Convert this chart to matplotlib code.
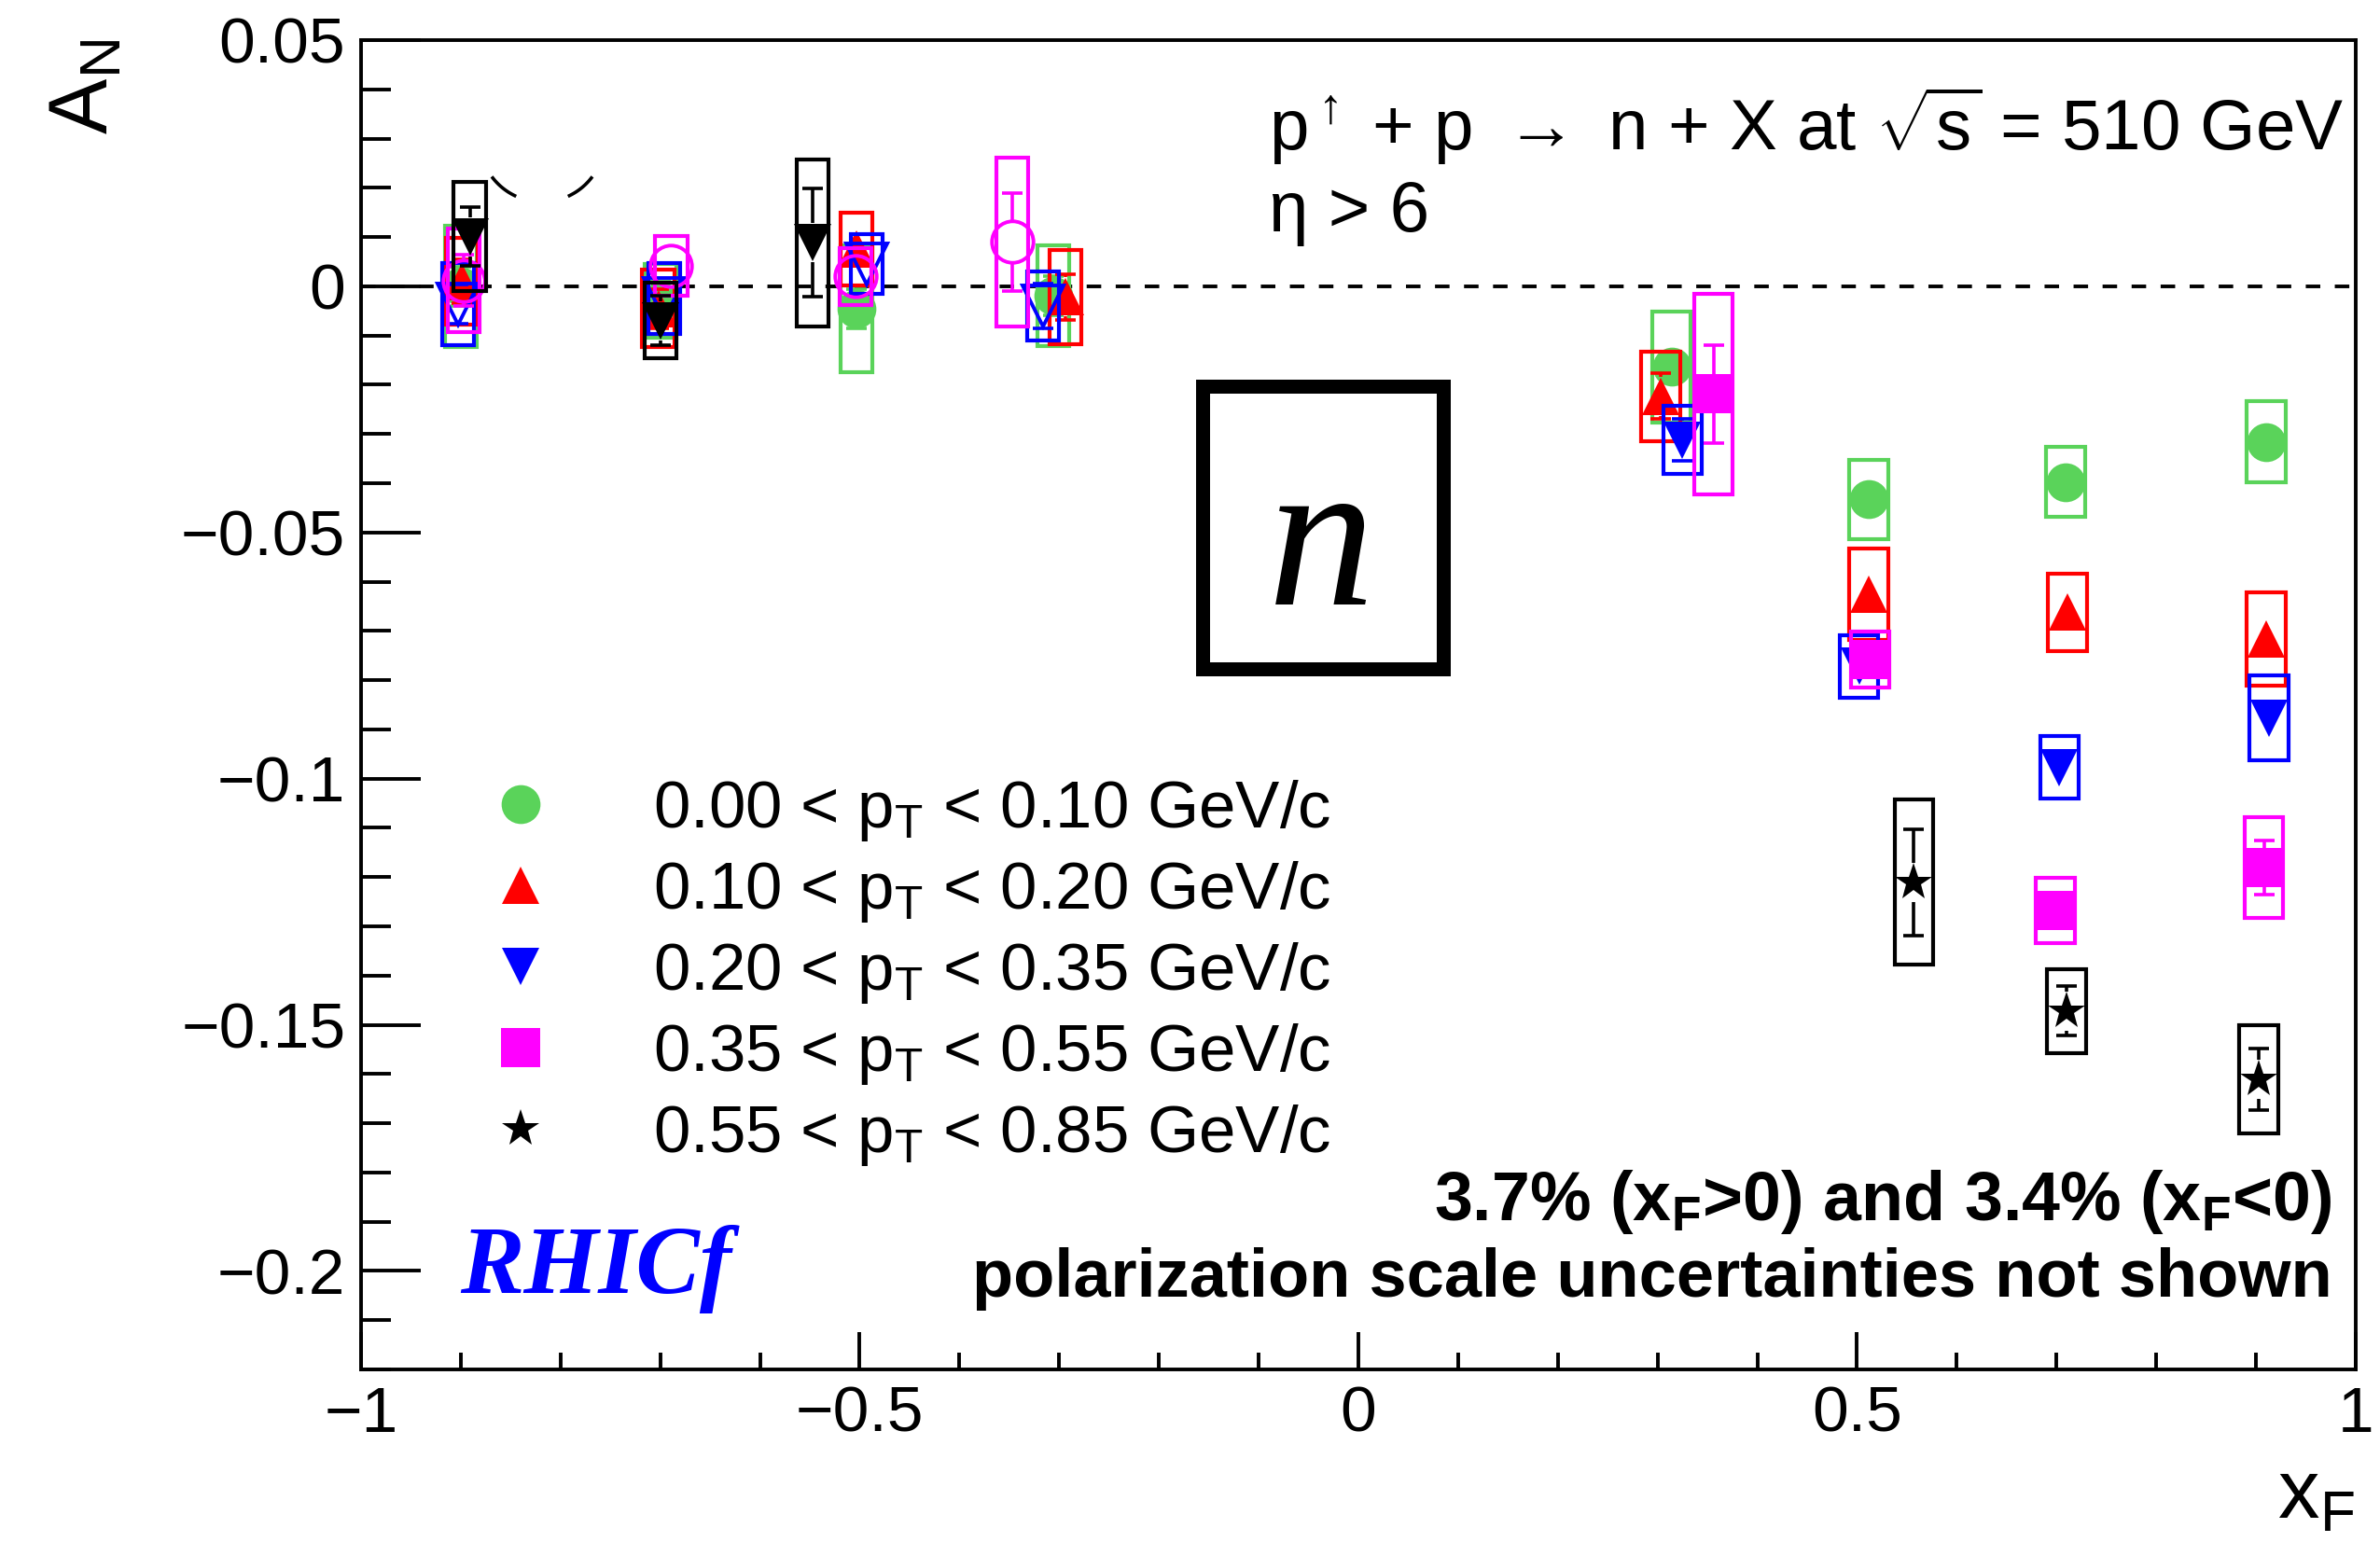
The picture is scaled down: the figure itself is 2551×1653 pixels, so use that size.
import matplotlib
matplotlib.use("Agg")
import numpy as np
import matplotlib.pyplot as plt
from matplotlib.lines import Line2D
from matplotlib.patches import Rectangle
from matplotlib.ticker import MultipleLocator, FuncFormatter

plt.rcParams["font.family"] = ["Liberation Sans", "DejaVu Sans"]
plt.rcParams["mathtext.fontset"] = "custom"
plt.rcParams["mathtext.rm"] = "Liberation Sans"
plt.rcParams["mathtext.it"] = "Liberation Sans:italic"
plt.rcParams["mathtext.bf"] = "Liberation Sans:bold"

# pT bins
pt_labels = [
    r"0.00 < p$_{\mathrm{T}}$ < 0.10 GeV/c",
    r"0.10 < p$_{\mathrm{T}}$ < 0.20 GeV/c",
    r"0.20 < p$_{\mathrm{T}}$ < 0.35 GeV/c",
    r"0.35 < p$_{\mathrm{T}}$ < 0.55 GeV/c",
    r"0.55 < p$_{\mathrm{T}}$ < 0.85 GeV/c",
]
colors = ["#5ad35a", "#ff0000", "#0000ff", "#ff00ff", "#000000"]

# forward side (xF > 0): mean xF, A_N, stat error, syst error
xf_pos_green = [0.314, 0.512, 0.709, 0.910]
an_pos_green = [-0.0164, -0.0433, -0.0398, -0.0316]
stat_pos_green = [0.0030, 0.0020, 0.0020, 0.0020]
sys_pos_green = [0.0113, 0.0081, 0.0071, 0.0083]

xf_pos_red = [0.303, 0.512, 0.711, 0.910]
an_pos_red = [-0.0223, -0.0625, -0.0662, -0.0716]
stat_pos_red = [0.0047, 0.0036, 0.0030, 0.0030]
sys_pos_red = [0.0091, 0.0093, 0.0079, 0.0095]

xf_pos_blue = [0.325, 0.502, 0.703, 0.913]
an_pos_blue = [-0.0312, -0.0772, -0.0977, -0.0877]
stat_pos_blue = [0.0042, 0.0037, 0.0036, 0.0037]
sys_pos_blue = [0.0069, 0.0064, 0.0063, 0.0086]

xf_pos_magenta = [0.356, 0.513, 0.699, 0.908]
an_pos_magenta = [-0.0219, -0.0758, -0.1268, -0.1181]
stat_pos_magenta = [0.0100, 0.0025, 0.0024, 0.0055]
sys_pos_magenta = [0.0204, 0.0057, 0.0066, 0.0102]

xf_pos_black = [0.557, 0.710, 0.903]
an_pos_black = [-0.1210, -0.1472, -0.1611]
stat_pos_black = [0.0108, 0.0050, 0.0062]
sys_pos_black = [0.0167, 0.0085, 0.0110]

# backward side (xF < 0)
xf_neg_green = [-0.900, -0.700, -0.503, -0.306]
an_neg_green = [0.0000, -0.0030, -0.0045, -0.0019]
stat_neg_green = [0.0040, 0.0040, 0.0040, 0.0040]
sys_neg_green = [0.0123, 0.0075, 0.0129, 0.0102]

xf_neg_red = [-0.899, -0.702, -0.503, -0.294]
an_neg_red = [0.0010, -0.0045, 0.0075, -0.0022]
stat_neg_red = [0.0045, 0.0040, 0.0035, 0.0047]
sys_neg_red = [0.0088, 0.0078, 0.0074, 0.0095]

xf_neg_blue = [-0.903, -0.696, -0.493, -0.316]
an_neg_blue = [-0.0036, -0.0025, 0.0045, -0.0040]
stat_neg_blue = [0.0040, 0.0035, 0.0035, 0.0045]
sys_neg_blue = [0.0083, 0.0072, 0.0060, 0.0070]

xf_neg_magenta = [-0.897, -0.689, -0.504, -0.347]
an_neg_magenta = [0.0012, 0.0041, 0.0020, 0.0090]
stat_neg_magenta = [0.0052, 0.0035, 0.0035, 0.0100]
sys_neg_magenta = [0.0105, 0.0061, 0.0058, 0.0172]

xf_neg_black = [-0.891, -0.700, -0.547]
an_neg_black = [0.0101, -0.0070, 0.0088]
stat_neg_black = [0.0060, 0.0050, 0.0110]
sys_neg_black = [0.0111, 0.0077, 0.0170]

marker_size = {"o": 30, "^": 29, "v": 29, "s": 30, "*": 30}


def draw_points(ax, xf, an, stat, syst, color, marker, filled, box_w, z):
    # pixel gap so the stat bars stop at the marker edge
    y_px = ax.transData.transform((0, 1))[1] - ax.transData.transform((0, 0))[1]
    gap = 21.0 / y_px
    for x, y, s, e in zip(xf, an, stat, syst):
        ax.add_patch(Rectangle((x - box_w / 2, y - e), box_w, 2 * e, fill=False,
                               edgecolor=color, lw=3.0, joinstyle="miter", zorder=z))
        if s > gap:
            ax.vlines([x, x], [y + gap, y - s], [y + s, y - gap], color=color,
                      lw=2.6, zorder=z + 0.1)
            ax.plot([x, x], [y - s, y + s], ls="none", marker="_", ms=16.5,
                    mew=2.6, color=color, zorder=z + 0.1)
    ms = marker_size[marker] + (2 if not filled else 0)
    ax.plot(xf, an, ls="none", marker=marker, ms=ms, color=color,
            mfc=color if filled else "none", mec=color,
            mew=0 if filled else 2.8, zorder=z + 0.2)


fig = plt.figure(figsize=(25.51, 16.53), dpi=100)
ax = fig.add_axes([0.1517, 0.1119, 0.8381, 0.8621])
ax.set_xlim(-1, 1)
ax.set_ylim(-0.22, 0.05)

ax.axhline(0, color="k", lw=2.8, ls=(0, (4, 4)), zorder=2)

pos_sets = [
    (xf_pos_green, an_pos_green, stat_pos_green, sys_pos_green, "o"),
    (xf_pos_red, an_pos_red, stat_pos_red, sys_pos_red, "^"),
    (xf_pos_blue, an_pos_blue, stat_pos_blue, sys_pos_blue, "v"),
    (xf_pos_magenta, an_pos_magenta, stat_pos_magenta, sys_pos_magenta, "s"),
    (xf_pos_black, an_pos_black, stat_pos_black, sys_pos_black, "*"),
]
neg_sets = [
    (xf_neg_green, an_neg_green, stat_neg_green, sys_neg_green, "o", True),
    (xf_neg_red, an_neg_red, stat_neg_red, sys_neg_red, "^", True),
    (xf_neg_blue, an_neg_blue, stat_neg_blue, sys_neg_blue, "v", False),
    (xf_neg_magenta, an_neg_magenta, stat_neg_magenta, sys_neg_magenta, "o", False),
    (xf_neg_black, an_neg_black, stat_neg_black, sys_neg_black, "v", True),
]

for i, (x, y, s, e, m, filled) in enumerate(neg_sets):
    draw_points(ax, x, y, s, e, colors[i], m, filled, 0.032, 3 + i)
for i, (x, y, s, e, m) in enumerate(pos_sets):
    draw_points(ax, x, y, s, e, colors[i], m, True, 0.039, 3 + i)

# two small arcs left over above the backward points
t = np.radians(np.linspace(218, 244, 30))
ax.plot(-0.8185 + 0.0627 * np.cos(t), 0.0298 + 0.01267 * np.sin(t), color="k", lw=2.6, zorder=2)
t = np.radians(np.linspace(296, 322, 30))
ax.plot(-0.8185 + 0.0627 * np.cos(t), 0.0298 + 0.01267 * np.sin(t), color="k", lw=2.6, zorder=2)

# axes style
for sp in ax.spines.values():
    sp.set_linewidth(2.8)
ax.xaxis.set_major_locator(MultipleLocator(0.5))
ax.xaxis.set_minor_locator(MultipleLocator(0.1))
ax.yaxis.set_major_locator(MultipleLocator(0.05))
ax.yaxis.set_minor_locator(MultipleLocator(0.01))
fmt = FuncFormatter(lambda v, p: ("%g" % round(v, 4)).replace("-", "\u2212"))
ax.xaxis.set_major_formatter(fmt)
ax.yaxis.set_major_formatter(fmt)
ax.tick_params(axis="both", which="both", direction="in", width=2.8,
               labelsize=50, pad=12, top=False, right=False)
ax.tick_params(axis="x", which="major", length=29)
ax.tick_params(axis="x", which="minor", length=13)
ax.tick_params(axis="y", which="major", length=46)
ax.tick_params(axis="y", which="minor", length=23)

fig.text(0.0529, 0.9746, r"A$_{\mathrm{N}}$", rotation=90, ha="right", va="top", fontsize=64)
fig.text(0.9894, 0.0151, r"x$_{\mathrm{F}}$", ha="right", va="baseline", fontsize=64)

ax.text(0.4551, 0.9172,
        r"p$^{\uparrow}$ + p $\rightarrow$ n + X at $\sqrt{\mathrm{s}}$ = 510 GeV",
        transform=ax.transAxes, fontsize=55, ha="left", va="baseline")
ax.text(0.4551, 0.8561, "\u03b7 > 6", transform=ax.transAxes, fontsize=55,
        ha="left", va="baseline")

ax.add_patch(Rectangle((0.4221, 0.5267), 0.1207, 0.2126, transform=ax.transAxes,
                       fill=False, edgecolor="k", lw=10.8, joinstyle="miter", zorder=8))
ax.text(0.4813, 0.5754, "n", transform=ax.transAxes, family="Liberation Serif",
        style="italic", fontsize=165, ha="center", va="baseline", zorder=8)

ax.text(0.988, 0.1123, r"3.7% (x$_{\mathbf{F}}$>0) and 3.4% (x$_{\mathbf{F}}$<0)",
        transform=ax.transAxes, fontsize=53, weight="bold", ha="right", va="baseline")
ax.text(0.988, 0.0547, "polarization scale uncertainties not shown",
        transform=ax.transAxes, fontsize=52, weight="bold", ha="right", va="baseline")
ax.text(0.0496, 0.0575, "RHICf", transform=ax.transAxes, family="Liberation Serif",
        style="italic", weight="bold", color="#0000ff", fontsize=74, va="baseline")

legend_markers = ["o", "^", "v", "s", "*"]
handles = [Line2D([], [], ls="none", marker=m, ms=marker_size[m], color=c, mew=0)
           for m, c in zip(legend_markers, colors)]
ax.legend(handles, pt_labels, loc="upper left", bbox_to_anchor=(0.0634, 0.445),
          frameon=False, fontsize=51, handlelength=1.0, handletextpad=1.505,
          labelspacing=0.24, borderpad=0, borderaxespad=0, numpoints=1)

fig.savefig("out.png", dpi=100)
